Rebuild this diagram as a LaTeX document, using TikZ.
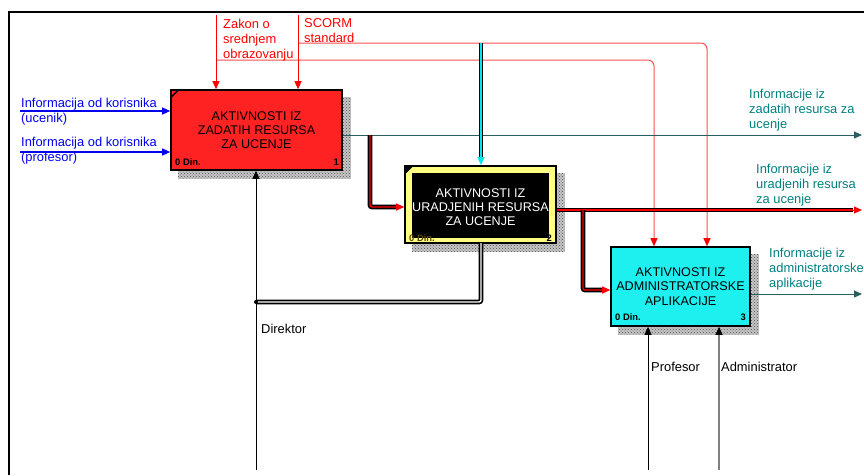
\documentclass[tikz,border=0pt]{standalone}
\usepackage{fontspec}
\setmainfont{Liberation Sans}
\usetikzlibrary{arrows.meta,patterns}

\definecolor{actred}{RGB}{255,34,34}
\definecolor{actcyan}{RGB}{30,240,240}
\definecolor{pipecyan}{RGB}{0,230,240}
\definecolor{actyellow}{RGB}{255,255,128}
\definecolor{infoblue}{RGB}{0,0,240}
\definecolor{ctrlred}{RGB}{255,0,0}
\definecolor{ctrlpink}{RGB}{255,80,80}
\definecolor{outteal}{RGB}{0,128,128}
\definecolor{tealline}{RGB}{40,96,96}
\definecolor{mechgray}{RGB}{128,128,128}

\newcommand\lblfont{\fontsize{12.9}{15}\selectfont}
\newcommand\actfont{\fontsize{12.6}{14.2}\selectfont}
\newcommand\numfont{\fontsize{9.4}{10}\bfseries\selectfont}

\pgfdeclarelayer{bg}
\pgfsetlayers{bg,main}

\tikzset{
  actbox/.style={draw=black, line width=1.6pt, inner sep=0pt, align=center, font=\actfont},
  shadowfill/.style={preaction={fill=gray!45}, pattern=crosshatch dots, pattern color=gray!60!black},
  tip/.style={-{Triangle[length=8pt,width=7pt]}},
  lbl/.style={inner sep=0pt, anchor=base west, align=left, font=\lblfont},
  num/.style={inner sep=0pt, font=\numfont},
  pipe/.style={line width=1.7pt, double distance=1.3pt, rounded corners=2pt},
}

\begin{document}
\begin{tikzpicture}[x=1pt,y=-1pt]
\useasboundingbox (0,0) rectangle (864,475);

% sheet frame
\draw[line width=2pt] (9,475) -- (9,12) -- (864,12);

% activity boxes
\node[actbox, fill=actred, minimum width=171pt, minimum height=80pt] (b1) at (256.5,130)
  {AKTIVNOSTI IZ\\ZADATIH RESURSA\\ZA UCENJE};
\node[actbox, fill=actyellow, minimum width=151pt, minimum height=77pt] (b2) at (480.5,204.5) {};
\fill[black] (412,173) rectangle (549,238);
\node[inner sep=0pt, align=center, font=\actfont, text=white] (b2t) at (480.5,207)
  {AKTIVNOSTI IZ\\URADJENIH RESURSA\\ZA UCENJE};
\node[actbox, fill=actcyan, minimum width=139pt, minimum height=79pt] (b3) at (680.5,286.5)
  {AKTIVNOSTI IZ\\ADMINISTRATORSKE\\APLIKACIJE};

% shadows behind the boxes
\begin{pgfonlayer}{bg}
  \foreach \b in {b1,b2,b3}{
    \path[shadowfill] ([shift={(8,8)}]\b.south west) rectangle ([shift={(8,8)}]\b.north east);
  }
\end{pgfonlayer}

% corner marks
\draw[line width=1.5pt] ([shift={(1,8)}]b1.north west) -- ([shift={(8,1)}]b1.north west);
\fill[black] ([shift={(1,1)}]b2.north west) -- ([shift={(9,1)}]b2.north west) -- ([shift={(1,9)}]b2.north west) -- cycle;

% box numbers
\node[num, anchor=base west] (n1a) at (175,165) {0 Din.};
\node[num, anchor=base east] (n1b) at (339,165) {1};
\node[num, anchor=base west, text={rgb,255:red,90;green,70;blue,0}] (n2a) at (409,241) {0 Din.};
\node[num, anchor=base east] (n2b) at (552,241) {2};
\node[num, anchor=base west] (n3a) at (615,320) {0 Din.};
\node[num, anchor=base east] (n3b) at (746,320) {3};

% free ends and bends of the arrows
\coordinate (zk) at (216,15);
\coordinate (sc) at (298,15);
\coordinate (zkb) at (216,60);
\coordinate (scb) at (298,43);
\coordinate (zkd) at (654,238);
\coordinate (scd) at (707,238);
\coordinate (in1) at (20,111);
\coordinate (in2) at (20,152);
\coordinate (out1) at (862,135);
\coordinate (out2) at (862,210);
\coordinate (out3) at (862,294);
\coordinate (dir) at (256,470);
\coordinate (pro) at (648,470);
\coordinate (adm) at (719,470);
\coordinate (admj) at (719,334);
\coordinate (ctl2) at (481,43);
\coordinate (ctl2j) at (481,158);
\coordinate (f12) at (370,135);
\coordinate (f12j) at (397,207);
\coordinate (f23) at (583,210);
\coordinate (f23j) at (604,290);
\coordinate (o2j) at (853,210);
\coordinate (m2) at (481,243);
\coordinate (m2j) at (256,302);

% controls of box 1 and their branches to box 3
\draw[ctrlpink, line width=1pt, rounded corners=6pt] (zkb) -- (zkb -| zkd) -- (zkd);
\draw[ctrlpink, line width=1pt, rounded corners=6pt] (scb) -- (scb -| scd) -- (scd);
\draw[ctrlred, line width=1pt, tip] (zkd) -- (zkd |- b3.north);
\draw[ctrlred, line width=1pt, tip] (scd) -- (scd |- b3.north);
\draw[ctrlred, line width=1pt, tip] (zk) -- (zk |- b1.north);
\draw[ctrlred, line width=1pt, tip] (sc) -- (sc |- b1.north);

% inputs of box 1
\draw[infoblue, line width=1.2pt, tip] (in1) -- (in1 -| b1.west);
\draw[infoblue, line width=1.2pt, tip] (in2) -- (in2 -| b1.west);

% output of box 1
\draw[tealline, line width=1pt, tip] (b1.east |- out1) -- (out1);

% control of box 2
\draw[pipe, double=pipecyan] (ctl2) -- (ctl2j);
\draw[pipecyan, line width=1.3pt, tip] (ctl2j) -- (ctl2j |- b2.north);

% box 1 output feeding box 2
\draw[pipe, double=ctrlred] (f12) -- (f12 |- f12j) -- (f12j);
\draw[ctrlred, line width=1pt, tip] (f12j) -- (f12j -| b2.west);

% output of box 2 and its branch to box 3
\draw[pipe, double=ctrlred] (b2.east |- out2) -- (o2j);
\draw[ctrlred, line width=1pt, tip] (o2j) -- (out2);
\draw[pipe, double=ctrlred] (f23) -- (f23 |- f23j) -- (f23j);
\draw[ctrlred, line width=1pt, tip] (f23j) -- (f23j -| b3.west);

% output of box 3
\draw[tealline, line width=1pt, tip] (b3.east |- out3) -- (out3);

% mechanisms
\draw[line width=1pt, tip] (dir) -- (dir |- b1.south);
\draw[pipe, double=white] (m2) -- (m2 |- m2j) -- (m2j);
\fill[black] (m2j) circle (2pt);
\draw[line width=1pt, tip] (pro) -- (pro |- b3.south);
\draw[mechgray, line width=1.2pt] (adm) -- (admj);
\draw[line width=1pt, tip, black] (admj) -- (admj |- b3.south);

% arrow labels (anchored at the baseline of their last line)
\node[lbl, text=ctrlred] (lzk) at (223,58) {Zakon o\\srednjem\\obrazovanju};
\node[lbl, text=ctrlred] (lsc) at (304,42) {SCORM\\standard};
\node[lbl, text=infoblue] (lin1) at (21,122) {Informacija od korisnika\\(ucenik)};
\node[lbl, text=infoblue] (lin2) at (21,161) {Informacija od korisnika\\(profesor)};
\node[lbl, text=outteal] (lout1) at (749,128) {Informacije iz\\zadatih resursa za\\ucenje};
\node[lbl, text=outteal] (lout2) at (756,203) {Informacije iz\\uradjenih resursa\\za ucenje};
\node[lbl, text=outteal] (lout3) at (769,287) {Informacije iz\\administratorske\\aplikacije};
\node[lbl] (ldir) at (261,333) {Direktor};
\node[lbl] (lpro) at (651,371) {Profesor};
\node[lbl] (ladm) at (721,371) {Administrator};
\end{tikzpicture}
\end{document}
